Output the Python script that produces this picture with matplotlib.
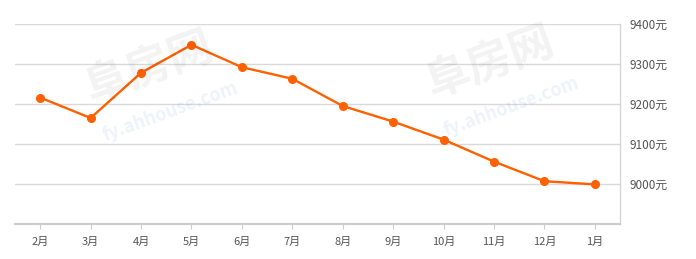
import matplotlib
matplotlib.use("Agg")
import matplotlib.pyplot as plt

plt.rcParams['font.family'] = ['Noto Sans CJK SC', 'DejaVu Sans']

months = ["2月", "3月", "4月", "5月", "6月", "7月", "8月", "9月", "10月", "11月", "12月", "1月"]
prices = [9216, 9165, 9278, 9348, 9292, 9263, 9195, 9156, 9111, 9056, 9007, 8999]
yticks = [9000, 9100, 9200, 9300, 9400]
ytick_labels = ["9000元", "9100元", "9200元", "9300元", "9400元"]

W, H = 696, 259
fig = plt.figure(figsize=(W / 100, H / 100), dpi=100)
ax = fig.add_axes([15 / W, (H - 224) / H, (620 - 15) / W, (224 - 24) / H])

# faint watermarks
for (wx, wy) in [(0.215, 0.74), (0.705, 0.76)]:
    fig.text(wx, wy, "阜房网", fontsize=32, color="#000000", alpha=0.05,
             rotation=20, ha="center", va="center", fontweight="bold")
    fig.text(wx + 0.03, wy - 0.17, "fy.ahhouse.com", fontsize=13, color="#6a9fd8", alpha=0.12,
             rotation=20, ha="center", va="center", fontweight="bold")

x = list(range(len(months)))
ax.plot(x, prices, color="#ff6000", lw=1.7, marker="o", markersize=5.5, zorder=3)

ax.set_xlim(-0.5, 11.5)
ax.set_ylim(8900, 9400)
ax.set_xticks(x)
ax.set_xticklabels(months)
ax.set_yticks(yticks)
ax.set_yticklabels(ytick_labels)
ax.yaxis.tick_right()
ax.grid(axis="y", color="#d9d9d9", lw=1)
ax.set_axisbelow(True)

for s in ["left", "top"]:
    ax.spines[s].set_visible(False)
ax.spines["right"].set_color("#d6d6d6")
ax.spines["right"].set_linewidth(1)
ax.spines["bottom"].set_color("#cccccc")
ax.spines["bottom"].set_linewidth(1.5)

ax.tick_params(axis="x", length=3.5, color="#cccccc", labelsize=8, labelcolor="#555555", pad=6)
ax.tick_params(axis="y", length=0, labelsize=8.5, labelcolor="#555555", pad=7)

fig.savefig("out.png", dpi=100)
